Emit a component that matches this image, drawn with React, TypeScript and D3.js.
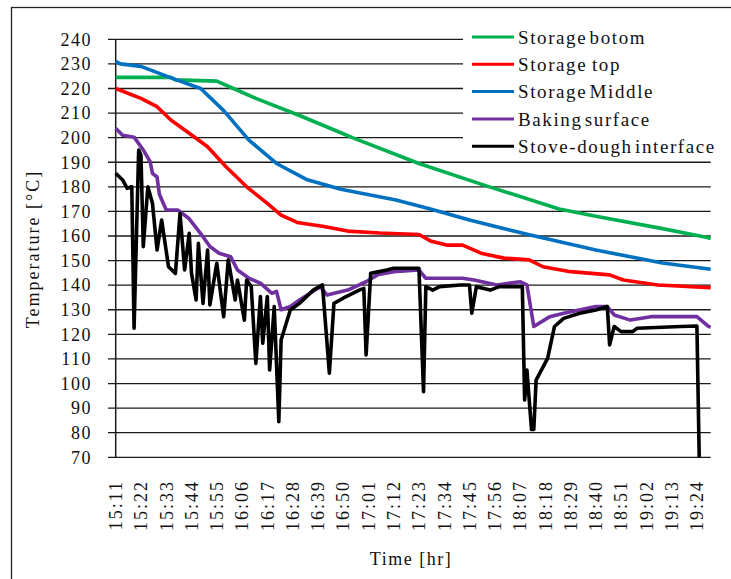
import * as d3 from "d3";

// minutes after 15:11
const bottomT = [0, 24, 26, 44, 50, 61, 80, 98, 103, 132, 161, 193, 209, 238, 257, 259];
const bottomV = [224.5, 224.5, 223.5, 223, 220.5, 216, 209, 202, 200, 189.5, 180.5, 171, 168, 163, 159.5, 159];

const topT = [0, 11, 18, 24, 32, 40, 48, 57, 66, 72, 79, 90, 101, 115, 132, 137, 144, 151, 159, 169, 180, 186, 198, 215, 221, 236, 259];
const topV = [220, 216, 212.6, 207.2, 201.8, 196.3, 188.2, 180, 173.3, 168.5, 165.5, 164, 162, 161.2, 160.6, 158, 156.3, 156.3, 153, 151, 150.3, 147.5, 145.5, 144.2, 142.1, 140.1, 139];

const middleT = [0, 2, 11, 25, 37, 47, 58, 70, 83, 98, 122, 137, 154, 180, 209, 238, 259];
const middleV = [231, 230, 229, 224, 220, 211, 199, 189.5, 183, 179, 174.6, 171, 166.5, 160.5, 154.3, 149, 146.5];

const surfaceT = [0, 3, 8, 12, 15, 16, 18, 19, 22, 27, 32, 37, 41, 45, 50, 53, 58, 63, 68, 70, 72, 76, 80, 89, 92, 101, 109, 114, 121, 132, 135, 151, 156, 166, 176, 179, 182, 189, 195, 209, 214, 217, 224, 233, 253, 258, 259];
const surfaceV = [203.8, 201, 200.2, 195, 190.2, 185.5, 184, 177, 170.6, 170.6, 167, 161, 155.7, 153, 151.6, 146.2, 142.8, 140.8, 136.7, 137.5, 130, 131.3, 134, 139.4, 136, 138, 141.4, 144.2, 145.5, 146.2, 142.8, 142.8, 142.1, 140.1, 141.4, 140.1, 123.2, 127.2, 128.6, 131.3, 131.3, 127.9, 125.8, 127.2, 127.2, 123.2, 123];

const interfaceT = [0, 3, 5, 7, 8, 10, 11, 12, 14, 16, 18, 20, 23, 26, 28, 30, 32, 33, 35, 36, 38, 40, 41, 44, 47, 49, 52, 53, 56, 57, 59, 61, 63, 64, 66, 67, 69, 71, 72, 76, 80, 86, 90, 93, 95, 99, 106, 108, 109, 111, 118, 121, 132, 134, 135, 138, 141, 150, 154, 155, 157, 163, 167, 177, 178, 179, 181, 182, 183, 188, 191, 195, 202, 209, 214, 215, 217, 220, 225, 227, 246, 253, 254];
const interfaceV = [185.5, 182.8, 179.4, 180, 122.5, 195, 192.9, 155.7, 180, 173.3, 154.3, 166.5, 147.5, 144.8, 169.2, 146.2, 161.1, 144.8, 134, 157, 132.6, 154.3, 132, 148.9, 127.2, 150.3, 134, 142.1, 125.8, 142.1, 139.4, 108.2, 135.4, 116.4, 135.4, 105.5, 131.3, 84.5, 117.7, 129.9, 132.6, 138, 140.1, 104.2, 132.6, 134.7, 138, 138.7, 111.6, 144.8, 146.2, 146.9, 146.9, 96.7, 139.4, 138, 139.4, 140.1, 140.1, 128.6, 139.4, 138, 139.4, 139.4, 93.3, 105.5, 81.3, 81.3, 101.4, 110.2, 123.2, 126.5, 128.6, 129.9, 131.3, 115.7, 123.2, 121.1, 121.1, 122.5, 123.2, 123.4, 70];

const tickLabels = ["15:11", "15:22", "15:33", "15:44", "15:55", "16:06", "16:17", "16:28", "16:39", "16:50", "17:01", "17:12", "17:23", "17:34", "17:45", "17:56", "18:07", "18:18", "18:29", "18:40", "18:51", "19:02", "19:13", "19:24"];
const yTicks = d3.range(70, 241, 10);

const series = [
  { name: "Storage botom", t: bottomT, v: bottomV, color: "#00b050" },
  { name: "Storage  top", t: topT, v: topV, color: "#ff0000" },
  { name: "Storage Middle", t: middleT, v: middleV, color: "#0070c0" },
  { name: "Baking surface", t: surfaceT, v: surfaceV, color: "#7030a0" },
  { name: "Stove-dough interface", t: interfaceT, v: interfaceV, color: "#000000" },
];

export default function App() {
  const width = 731;
  const height = 579;
  const font = "Liberation Serif, DejaVu Serif, serif";

  const x = d3.scaleLinear().domain([0, 259]).range([115.7, 710.7]);
  const y = d3.scaleLinear().domain([70, 240]).range([457.3, 39.3]);

  const line = d3.line<[number, number]>()
    .x(d => x(d[0]))
    .y(d => y(d[1]));

  return (
    <svg width={width} height={height} style={{ position: "absolute", left: 0, top: 0, background: "#fff" }}>
      <rect x={11.5} y={7.5} width={730} height={600} fill="#fff" stroke="#222" strokeWidth={1.3} />

      {/* gridlines */}
      {yTicks.map(t => (
        <line key={t} x1={108} x2={x(259)} y1={y(t)} y2={y(t)} stroke="#1a1a1a" strokeWidth={1.3} />
      ))}
      <line x1={x(0)} x2={x(0)} y1={y(240)} y2={y(70)} stroke="#1a1a1a" strokeWidth={1.5} />

      {/* y labels */}
      {yTicks.map(t => (
        <text key={t} x={92} y={y(t)} dy="0.35em" textAnchor="end" fontFamily={font} fontSize={18}
          letterSpacing={1.5} fill="#111">{t}</text>
      ))}

      {/* x labels */}
      {tickLabels.map((lab, i) => (
        <text key={lab} transform={`translate(${x(i * 11)},480) rotate(-90)`} dy="0.35em" textAnchor="end"
          fontFamily={font} fontSize={18} letterSpacing={2} fill="#111">{lab}</text>
      ))}

      <text transform="translate(33,249) rotate(-90)" dy="0.35em" textAnchor="middle" fontFamily={font}
        fontSize={18} letterSpacing={2} fill="#111">Temperature [°C]</text>
      <text x={411} y={559} dy="0.35em" textAnchor="middle" fontFamily={font} fontSize={18}
        letterSpacing={1.5} fill="#111">Time [hr]</text>

      {/* legend */}
      <rect x={463} y={24} width={262} height={131} fill="#fff" />

      {/* series */}
      {series.map(s => (
        <path key={s.name} d={line(s.t.map((t, i) => [t, s.v[i]] as [number, number])) || ""}
          fill="none" stroke={s.color} strokeWidth={3.6} strokeLinejoin="round" />
      ))}

      {series.map((s, i) => {
        const ly = 37 + i * 27.3;
        return (
          <g key={s.name}>
            <line x1={472} x2={514} y1={ly} y2={ly} stroke={s.color} strokeWidth={3} />
            <text x={518} y={ly} dy="0.35em" fontFamily={font} fontSize={19} letterSpacing={1.6}
              wordSpacing={-4} fill="#111" style={{ whiteSpace: "pre" }}>{s.name}</text>
          </g>
        );
      })}
    </svg>
  );
}
